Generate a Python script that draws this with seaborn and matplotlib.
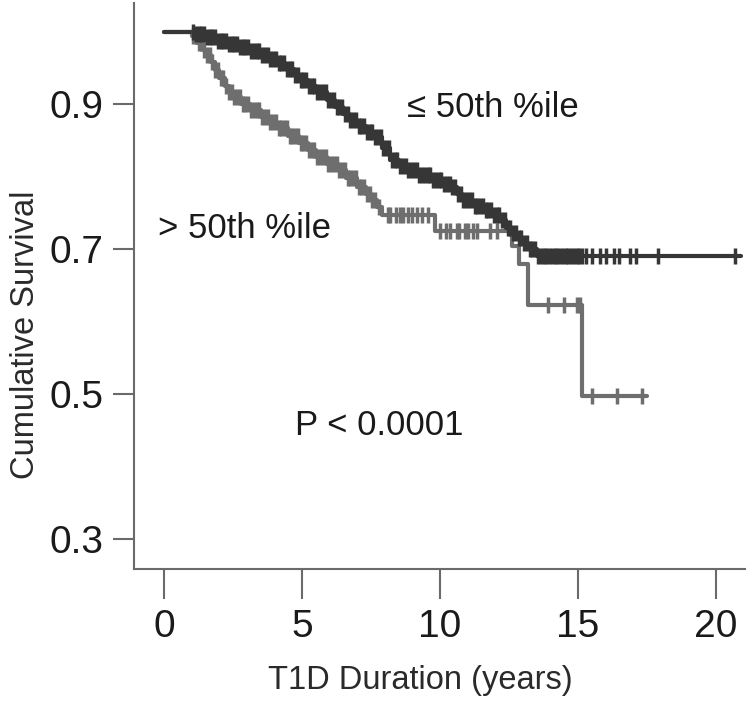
import numpy as np
import pandas as pd
import matplotlib
matplotlib.use("Agg")
import matplotlib.pyplot as plt
import seaborn as sns

# Kaplan-Meier step points (time in years, cumulative survival)
low_times = [0.0, 1.1, 1.5, 1.9, 2.3, 2.7, 3.1, 3.5, 3.8, 4.1, 4.4, 4.7, 4.9, 5.2, 5.5,
             5.9, 6.2, 6.5, 6.7, 7.0, 7.3, 7.6, 7.9, 8.2, 8.5, 8.8, 9.2, 9.75, 10.1,
             10.4, 10.6, 10.8, 11.2, 11.6, 11.9, 12.2, 12.4, 12.6, 12.8, 13.0, 13.2,
             13.5, 20.9]
low_surv = [1.0, 0.997, 0.993, 0.988, 0.984, 0.979, 0.974, 0.968, 0.962, 0.957, 0.949,
            0.940, 0.933, 0.925, 0.917, 0.906, 0.897, 0.887, 0.878, 0.870, 0.862, 0.855,
            0.840, 0.823, 0.815, 0.809, 0.802, 0.795, 0.790, 0.786, 0.776, 0.768, 0.760,
            0.754, 0.747, 0.740, 0.730, 0.722, 0.715, 0.708, 0.700, 0.690, 0.690]

high_times = [0.0, 1.0, 1.2, 1.4, 1.55, 1.7, 1.85, 2.0, 2.2, 2.35, 2.5, 2.8, 3.1, 3.5,
              3.8, 4.1, 4.5, 4.9, 5.2, 5.5, 5.9, 6.3, 6.6, 7.0, 7.3, 7.5, 7.7, 7.9,
              9.8, 12.6, 12.85, 13.2, 15.15, 17.5]
high_surv = [1.0, 0.995, 0.985, 0.975, 0.968, 0.958, 0.948, 0.937, 0.925, 0.917, 0.910,
             0.900, 0.892, 0.882, 0.875, 0.868, 0.857, 0.846, 0.837, 0.827, 0.818, 0.809,
             0.798, 0.786, 0.776, 0.768, 0.758, 0.747, 0.725, 0.705, 0.680, 0.623, 0.497,
             0.497]

# censored observations
low_censor = [1.05, 1.15, 1.25, 1.35, 1.45, 1.55, 1.65, 1.75, 1.85, 1.95, 2.05, 2.15, 2.25,
              2.35, 2.45, 2.55, 2.65, 2.75, 2.85, 2.95, 3.05, 3.15, 3.25, 3.35, 3.45, 3.55,
              3.65, 3.75, 3.85, 3.95, 4.05, 4.15, 4.25, 4.35, 4.45, 4.55, 4.65, 4.75, 4.85,
              4.95, 5.05, 5.15, 5.25, 5.35, 5.45, 5.55, 5.65, 5.75, 5.85, 5.95, 6.05, 6.15,
              6.25, 6.35, 6.45, 6.55, 6.65, 6.75, 6.85, 6.95, 7.05, 7.15, 7.25, 7.35, 7.45,
              7.55, 7.65, 7.75, 7.85, 7.95, 8.05, 8.15, 8.25, 8.35, 8.45, 8.55, 8.65, 8.75,
              8.85, 8.95, 9.05, 9.15, 9.25, 9.35, 9.45, 9.55, 9.65, 9.75, 9.85, 9.95, 10.05,
              10.15, 10.25, 10.35, 10.45, 10.55, 10.65, 10.75, 10.85, 10.95, 11.05, 11.15,
              11.25, 11.35, 11.45, 11.55, 11.65, 11.75, 11.85, 11.95, 12.05, 12.15, 12.25,
              12.35, 12.45, 12.55, 12.65, 12.75, 12.85, 12.95, 13.05, 13.15, 13.25, 13.35,
              13.45, 13.55, 13.65, 13.75, 13.85, 13.95, 14.05, 14.15, 14.25, 14.35, 14.45,
              14.55, 14.65, 14.75, 14.85, 14.95, 15.05, 15.15, 15.3, 15.5, 15.8, 16.0, 16.3,
              16.5, 16.9, 17.1, 17.9, 20.7]
high_censor = [1.05, 1.15, 1.25, 1.35, 1.45, 1.55, 1.65, 1.75, 1.85, 1.95, 2.05, 2.15,
               2.25, 2.35, 2.45, 2.55, 2.65, 2.75, 2.85, 2.95, 3.05, 3.15, 3.25, 3.35,
               3.45, 3.55, 3.65, 3.75, 3.85, 3.95, 4.05, 4.15, 4.25, 4.35, 4.45, 4.55,
               4.65, 4.75, 4.85, 4.95, 5.05, 5.15, 5.25, 5.35, 5.45, 5.55, 5.65, 5.75,
               5.85, 5.95, 6.05, 6.15, 6.25, 6.35, 6.45, 6.55, 6.65, 6.75, 6.85, 6.95,
               7.05, 7.15, 7.25, 7.35, 7.45, 7.55, 7.65, 7.8, 8.1, 8.2, 8.4, 8.55, 8.65,
               8.85, 9.0, 9.15, 9.35, 9.55, 10.0, 10.2, 10.35, 10.6, 10.7, 10.9, 11.0,
               11.2, 11.35, 11.8, 12.05, 13.9, 14.5, 14.95, 15.07, 15.5, 16.4, 17.3]

groups = ["≤ 50th %ile", "> 50th %ile"]
colors = ["#363636", "#6e6e6e"]

sns.set_style("ticks")
plt.rcParams["font.family"] = ["Liberation Sans", "DejaVu Sans"]


def censor_y(times, surv, cens):
    idx = np.searchsorted(times, cens, side="right") - 1
    return np.asarray(surv)[idx]


curves = pd.concat([
    pd.DataFrame({"t": low_times, "s": low_surv, "group": groups[0]}),
    pd.DataFrame({"t": high_times, "s": high_surv, "group": groups[1]}),
])
cens = pd.concat([
    pd.DataFrame({"t": low_censor, "s": censor_y(low_times, low_surv, low_censor), "group": groups[0]}),
    pd.DataFrame({"t": high_censor, "s": censor_y(high_times, high_surv, high_censor), "group": groups[1]}),
])
palette = dict(zip(groups, colors))

fig = plt.figure(figsize=(7.51, 7.04), dpi=100)
ax = fig.add_axes([0.1784, 0.1918, 0.8136, 0.8040])

# lighter group first so the darker curve sits on top
for g in groups[::-1]:
    sns.lineplot(data=curves[curves.group == g], x="t", y="s", color=palette[g],
                 drawstyle="steps-post", estimator=None, sort=True, linewidth=3.0, ax=ax)
    sns.scatterplot(data=cens[cens.group == g], x="t", y="s", color=palette[g],
                    marker="|", s=130, linewidth=2.5, ax=ax, zorder=3)

ax.set_xlim(-1.09, 21.05)
ax.set_ylim(0.2586, 1.04)
ax.set_xticks([0, 5, 10, 15, 20])
ax.set_yticks([0.3, 0.5, 0.7, 0.9])
ax.set_yticklabels(["0.3", "0.5", "0.7", "0.9"])

ax.tick_params(axis="both", labelsize=28, colors="#6a6a6a", labelcolor="#1a1a1a", width=1.5, pad=7)
ax.tick_params(axis="x", length=21.6)
ax.tick_params(axis="y", length=15)
for side in ["top", "right"]:
    ax.spines[side].set_visible(False)
for side in ["left", "bottom"]:
    ax.spines[side].set_color("#6a6a6a")
    ax.spines[side].set_linewidth(1.5)

ax.set_xlabel("T1D Duration (years)", fontsize=23.5, color="#2a2a2a")
ax.set_ylabel("Cumulative Survival", fontsize=23.5, color="#2a2a2a")
ax.xaxis.set_label_coords(0.468, -0.17)
ax.yaxis.set_label_coords(-0.152, 0.413)

ax.text(8.8, 0.896, "≤ 50th %ile", fontsize=25, va="center", ha="left", color="#1a1a1a")
ax.text(-0.22, 0.729, "> 50th %ile", fontsize=25, va="center", ha="left", color="#1a1a1a")
ax.text(4.75, 0.457, "P < 0.0001", fontsize=25, va="center", ha="left", color="#1a1a1a")

if ax.get_legend() is not None:
    ax.get_legend().remove()

fig.savefig("out.png", dpi=100)
